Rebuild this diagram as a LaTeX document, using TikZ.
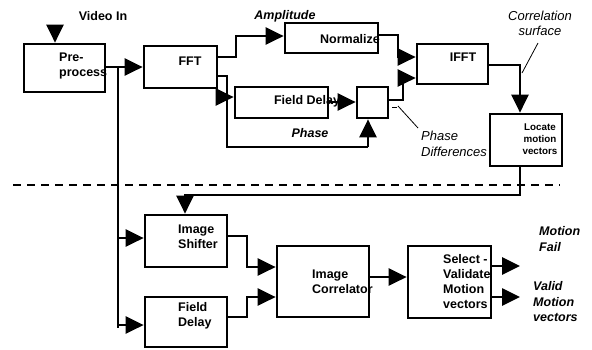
\documentclass[tikz,border=0pt]{standalone}
\usepackage{fontspec}
\setmainfont{Liberation Sans}
\usetikzlibrary{arrows.meta}
\tikzset{
  blk/.style={draw, line width=2.7pt, inner sep=0pt},
  wire/.style={line width=2.7pt},
  arr/.style={wire, -{Triangle[length=18pt,width=17pt]}},
  lbl/.style={font=\bfseries\fontsize{12.5}{15}\selectfont, inner sep=0pt, align=left},
  lblsm/.style={font=\bfseries\fontsize{9.8}{12}\selectfont, inner sep=0pt, align=left},
  ital/.style={font=\bfseries\itshape\fontsize{12.5}{15.5}\selectfont, inner sep=0pt, align=left},
  note/.style={font=\itshape\fontsize{13}{15.5}\selectfont, inner sep=0pt, align=left},
  leader/.style={line width=0.8pt},
}
\begin{document}
\begin{tikzpicture}[x=1pt,y=-1pt]
\useasboundingbox (0,0) rectangle (592,349);
% boxes
\node[blk, minimum width=81pt, minimum height=48pt] (pre) at (64.5,68) {};
\node[lbl, anchor=west] (pret) at (59,65.5) {Pre-\\process};
\node[blk, minimum width=73pt, minimum height=42pt] (fft) at (180.5,67) {};
\node[lbl] (fftt) at (190,61) {FFT};
\node[blk, minimum width=93pt, minimum height=30pt] (norm) at (331.5,38) {};
\node[lbl] (normt) at (350,39) {Normalize};
\node[blk, minimum width=93pt, minimum height=31pt] (fd1) at (281.5,102.5) {};
\node[lbl] (fd1t) at (307,101) {Field Delay};
\node[blk, minimum width=31pt, minimum height=31pt] (pd) at (372.5,102.5) {};
\node[blk, minimum width=71pt, minimum height=40pt] (ifft) at (452.5,64) {};
\node[lbl] (ifftt) at (463,57) {IFFT};
\node[blk, minimum width=72pt, minimum height=52pt] (loc) at (526,140) {};
\node[lblsm, align=center] (loct) at (540,139.5) {Locate\\motion\\vectors};
\node[blk, minimum width=82pt, minimum height=52pt] (shf) at (186,241) {};
\node[lbl] (shft) at (178,236.5) [anchor=west] {Image\\Shifter};
\node[blk, minimum width=82pt, minimum height=50pt] (fd2) at (186,322) {};
\node[lbl] (fd2t) at (178,316) [anchor=west] {Field\\Delay};
\node[blk, minimum width=92pt, minimum height=71pt] (cor) at (323,281.5) {};
\node[lbl] (cort) at (312,281.5) [anchor=west] {Image\\Correlator};
\node[blk, minimum width=83pt, minimum height=72pt] (sel) at (449.5,282) {};
\node[lbl] (selt) at (443,281.5) [anchor=west] {Select -\\Validate\\Motion\\vectors};
% labels
\node[lbl] (vin) at (103,16) {Video In};
\node[ital] (amp) at (285,16) {Amplitude};
\node[ital] (ph) at (310,133) {Phase};
\node[note, align=center] (cs) at (540,23.5) {Correlation\\surface};
\node[note, anchor=west] (pdt) at (421,144) {Phase\\Differences};
\node[ital, anchor=west] (mf) at (539,239) {Motion\\Fail};
\node[ital, anchor=west] (vm) at (533,302) {Valid\\Motion\\vectors};
% coordinates
\coordinate (vtop) at (55,25);
\coordinate (bus) at (118,67);
\coordinate (busend) at (118,328);
\coordinate (mfout) at (520,266);
\coordinate (vmout) at (520,297);
% connectors
\draw[arr] (vtop) -- (pre.north -| vtop);
\draw[arr] (pre.east |- bus) -- (fft.west |- bus);
\draw[wire] (bus) -- (busend);
\draw[arr] (118,238) -- (shf.west |- 0,238);
\draw[arr] (busend) ++(0,-3) -- (fd2.west |- 0,325);
\draw[arr] (fft.east |- 0,57) -- (236,57) -- (236,36) -- (norm.west |- 0,36);
\draw[wire] (fft.east |- 0,76) -- (227,76) -- (227,147) -- (368,147);
\draw[arr] (227,97) -- (fd1.west |- 0,97);
\draw[arr] (368,147) -- (pd.south -| 368,0);
\draw[arr] (fd1.east |- 0,102) -- (pd.west |- 0,102);
\draw[arr] (pd.east |- 0,100) -- (403,100) -- (403,78) -- (ifft.west |- 0,78);
\draw[arr] (norm.east |- 0,35) -- (398,35) -- (398,57) -- (ifft.west |- 0,57);
\draw[arr] (ifft.east |- 0,65) -- (520,65) -- (loc.north -| 520,0);
\draw[arr] (loc.south -| 520,0) -- (520,195) -- (185,195) -- (shf.north -| 185,0);
\draw[arr] (shf.east |- 0,236) -- (247,236) -- (247,267) -- (cor.west |- 0,267);
\draw[arr] (fd2.east |- 0,317) -- (247,317) -- (247,297) -- (cor.west |- 0,297);
\draw[arr] (cor.east |- 0,277) -- (sel.west |- 0,277);
\draw[arr] (sel.east |- mfout) -- (mfout);
\draw[arr] (sel.east |- vmout) -- (vmout);
% dashed divider
\draw[line width=1.3pt, dash pattern=on 8pt off 6pt] (13,185) -- (560,185);
% leaders
\draw[leader] (538,43) -- (522,73);
\draw[leader] (418,128) -- (398,106);
\draw[line width=1pt] (392,107) -- (397,107);
\end{tikzpicture}
\end{document}
